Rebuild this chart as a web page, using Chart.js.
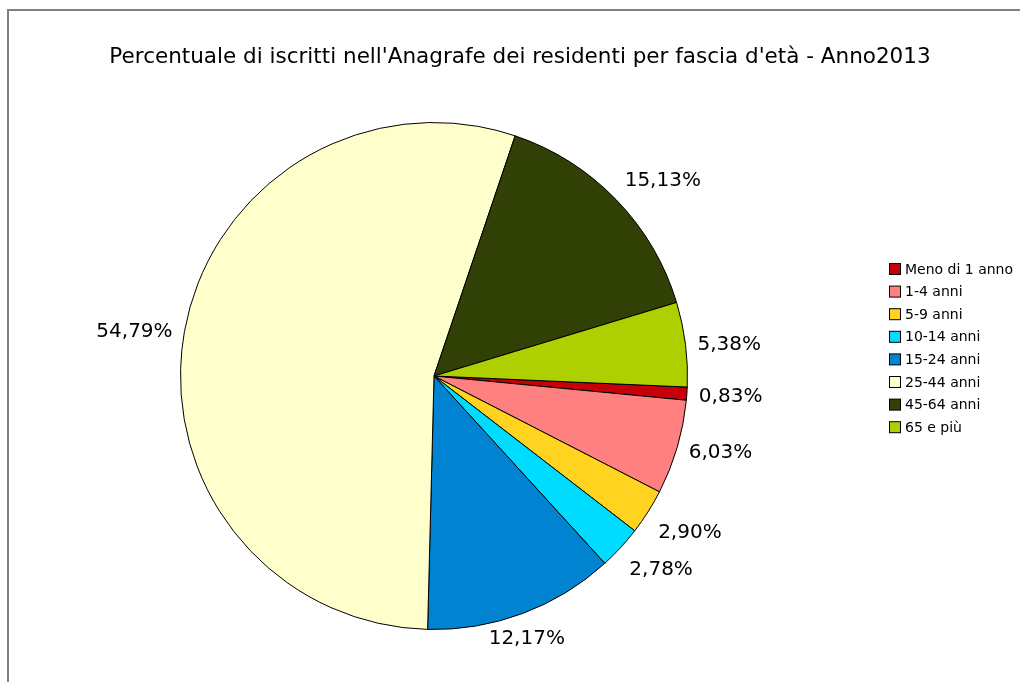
<!DOCTYPE html>
<html>
<head>
<meta charset="utf-8">
<script src="https://cdn.jsdelivr.net/npm/chart.js@4.4.0/dist/chart.umd.min.js"></script>
<style>
  html, body { margin: 0; padding: 0; background: #fff; }
  #wrap { width: 1020px; height: 682px; }
</style>
</head>
<body>
<div id="wrap"><canvas id="pieChart" width="1020" height="682"></canvas></div>
<script>
const titolo = "Percentuale di iscritti nell'Anagrafe dei residenti per fascia d'età - Anno2013";
const fasce = ['Meno di 1 anno', '1-4 anni', '5-9 anni', '10-14 anni', '15-24 anni', '25-44 anni', '45-64 anni', '65 e più'];
const percentuali = [0.83, 6.03, 2.90, 2.78, 12.17, 54.79, 15.13, 5.38];
const colori = ['#c5000b', '#ff8080', '#ffd320', '#00dcff', '#0084d1', '#ffffcc', '#314004', '#aecf00'];

const FONT = '"DejaVu Sans", Verdana, sans-serif';

// cornice, titolo, etichette e legenda disegnati a mano
const decorPlugin = {
    id: 'decor',
    beforeDraw(chart) {
        const ctx = chart.ctx;
        ctx.save();
        ctx.fillStyle = '#fff';
        ctx.fillRect(0, 0, chart.width, chart.height);
        ctx.strokeStyle = '#808080';
        ctx.lineWidth = 2;
        ctx.beginPath();
        ctx.moveTo(8, chart.height + 5);
        ctx.lineTo(8, 10);
        ctx.lineTo(chart.width + 5, 10);
        ctx.stroke();

        ctx.fillStyle = '#000';
        ctx.font = '21.5px ' + FONT;
        ctx.textAlign = 'center';
        ctx.textBaseline = 'middle';
        ctx.fillText(titolo, 520, 57);
        ctx.restore();
    },
    afterDraw(chart) {
        const ctx = chart.ctx;
        const meta = chart.getDatasetMeta(0);
        const H = 24;
        ctx.save();
        ctx.font = '20px ' + FONT;
        ctx.fillStyle = '#000';
        ctx.textBaseline = 'middle';
        meta.data.forEach((arc, i) => {
            const mid = (arc.startAngle + arc.endAngle) / 2;
            const R = arc.outerRadius + 12;
            const ax = arc.x + Math.cos(mid) * R;
            const ay = arc.y + Math.sin(mid) * R;
            // allineamento per settori di 45 gradi (angolo antiorario)
            let deg = (360 - (mid * 180 / Math.PI) % 360 + 360) % 360;
            let h = 'center', v = 0;
            if (deg <= 22.5 || deg > 337.5) h = 'left';
            else if (deg < 67.5) { h = 'left'; v = -1; }
            else if (deg < 112.5) v = -1;
            else if (deg <= 157.5) { h = 'right'; v = -1; }
            else if (deg <= 202.5) h = 'right';
            else if (deg < 247.5) { h = 'right'; v = 1; }
            else if (deg < 292.5) v = 1;
            else { h = 'left'; v = 1; }
            const txt = percentuali[i].toFixed(2).replace('.', ',') + '%';
            ctx.textAlign = h;
            ctx.fillText(txt, ax, ay + v * H / 2 + 2);
        });

        // legenda
        ctx.font = '14px ' + FONT;
        ctx.textAlign = 'left';
        fasce.forEach((f, i) => {
            const y = 269 + i * 22.6;
            ctx.fillStyle = colori[i];
            ctx.fillRect(889.5, y - 5.5, 11, 11);
            ctx.strokeStyle = '#000';
            ctx.lineWidth = 1;
            ctx.strokeRect(889.5, y - 5.5, 11, 11);
            ctx.fillStyle = '#000';
            ctx.fillText(f, 905, y + 1);
        });
        ctx.restore();
    }
};

const ctx = document.getElementById('pieChart').getContext('2d');
new Chart(ctx, {
    type: 'pie',
    data: {
        labels: fasce,
        datasets: [{
            data: percentuali,
            backgroundColor: colori,
            borderColor: '#000',
            borderWidth: 1
        }]
    },
    options: {
        responsive: false,
        animation: false,
        rotation: 92.5,
        layout: {
            padding: { left: 180, right: 332, top: 122, bottom: 52 }
        },
        plugins: {
            legend: { display: false },
            title: { display: false },
            tooltip: { enabled: false }
        }
    },
    plugins: [decorPlugin]
});
</script>
</body>
</html>
